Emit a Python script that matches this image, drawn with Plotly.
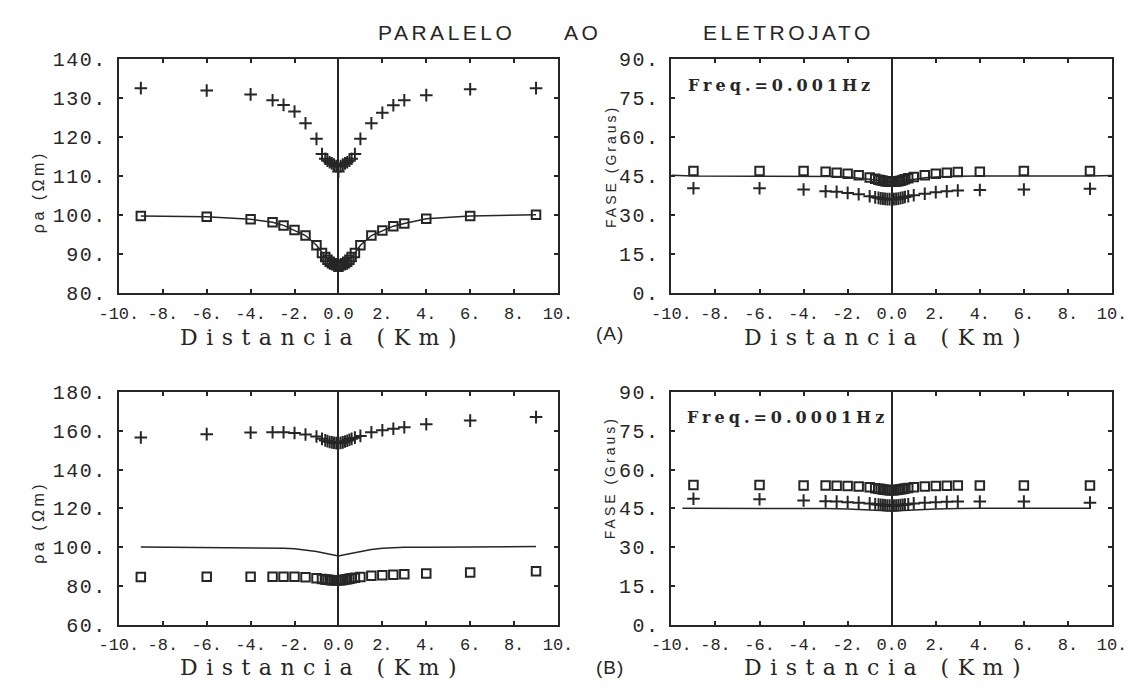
import plotly.graph_objects as go

W, H = 1143, 691
INK = "#262626"

# ---------------- data ----------------
X = [-9, -6, -4, -3, -2.5, -2, -1.5, -1, -0.75, -0.6, -0.5, -0.4, -0.3, -0.2, -0.1, 0,
     0.1, 0.2, 0.3, 0.4, 0.5, 0.6, 0.75, 1, 1.5, 2, 2.5, 3, 4, 6, 9]

# (A) Freq = 0.001 Hz, apparent resistivity
rho_a_plus = [132.6, 132.0, 131.0, 129.5, 128.3, 126.6, 123.6, 119.6, 115.7, 114.5, 114.0, 113.6, 113.3, 113.0, 112.6, 111.2,
              112.6, 113.0, 113.3, 113.6, 114.0, 114.5, 115.7, 119.6, 123.6, 126.3, 128.2, 129.5, 130.8, 132.3, 132.6]
rho_a_square = [99.8, 99.6, 99.0, 98.2, 97.4, 96.2, 94.8, 92.3, 90.3, 89.3, 88.6, 88.1, 87.7, 87.4, 87.2, 86.8,
                87.2, 87.4, 87.7, 88.1, 88.6, 89.3, 90.3, 92.3, 94.8, 96.1, 97.2, 97.9, 99.1, 99.8, 100.1]
rho_a_line = [99.8, 99.6, 99.0, 98.2, 97.4, 96.2, 94.8, 92.3, 90.3, 89.3, 88.6, 88.1, 87.7, 87.4, 87.2, 86.8,
              87.2, 87.4, 87.7, 88.1, 88.6, 89.3, 90.3, 92.3, 94.8, 96.1, 97.2, 97.9, 99.1, 99.8, 100.1]

# (A) Freq = 0.001 Hz, phase
fase_a_square = [47.0, 47.0, 47.0, 46.7, 46.4, 46.0, 45.4, 44.5, 44.0, 43.7, 43.5, 43.3, 43.1, 43.0, 42.9, 42.9,
                 42.9, 43.0, 43.1, 43.3, 43.6, 43.9, 44.2, 44.7, 45.4, 46.0, 46.4, 46.6, 46.7, 47.0, 47.0]
fase_a_plus = [40.4, 40.4, 39.9, 39.2, 39.0, 38.6, 38.1, 37.3, 36.9, 36.7, 36.5, 36.4, 36.3, 36.2, 36.2, 36.2,
               36.2, 36.3, 36.4, 36.6, 36.8, 37.0, 37.3, 37.7, 38.3, 38.9, 39.2, 39.5, 39.7, 39.9, 40.2]
fase_a_line_x = [-10, -9, -6, -4, -3, -2.5, -2, -1.5, -1, -0.5, 0, 0.5, 1, 1.5, 2, 2.5, 3, 4, 6, 9, 10]
fase_a_line = [45.4, 45.1, 45.0, 45.1, 45.0, 44.9, 44.7, 44.4, 43.9, 43.2, 42.8, 43.2, 43.9, 44.4, 44.7, 44.9, 45.0, 45.1, 45.0, 45.1, 45.3]

# (B) Freq = 0.0001 Hz, apparent resistivity
rho_b_plus = [156.5, 158.2, 159.0, 159.2, 159.2, 158.8, 158.0, 157.0, 155.8, 155.0, 154.6, 154.2, 154.0, 153.8, 153.6, 153.5,
              153.7, 154.0, 154.4, 154.8, 155.3, 155.8, 156.4, 157.3, 159.2, 160.2, 161.0, 161.8, 163.3, 165.2, 167.0]
rho_b_square = [84.6, 84.8, 84.8, 84.8, 84.8, 84.7, 84.5, 84.0, 83.6, 83.4, 83.2, 83.1, 83.0, 82.9, 82.9, 82.9,
                83.0, 83.1, 83.3, 83.5, 83.7, 84.0, 84.3, 84.6, 85.3, 85.6, 85.8, 86.0, 86.4, 87.0, 87.6]
rho_b_line_x = [-9, -6, -4, -3, -2.5, -2, -1.5, -1, -0.5, 0, 0.5, 1, 1.5, 2, 2.5, 3, 4, 6, 9]
rho_b_line = [100.1, 100.0, 99.9, 99.7, 99.5, 99.2, 98.6, 97.8, 96.6, 95.4, 96.6, 97.8, 98.8, 99.5, 99.8, 100.0, 100.0, 100.0, 100.3]

# (B) Freq = 0.0001 Hz, phase
fase_b_square = [54.0, 54.0, 53.8, 53.8, 53.7, 53.6, 53.4, 53.1, 52.8, 52.6, 52.5, 52.3, 52.2, 52.1, 52.0, 52.0,
                 52.0, 52.1, 52.2, 52.4, 52.5, 52.7, 52.9, 53.1, 53.4, 53.6, 53.7, 53.8, 53.8, 53.8, 53.8]
fase_b_plus = [48.7, 48.5, 48.0, 47.7, 47.6, 47.4, 47.2, 46.9, 46.6, 46.5, 46.4, 46.3, 46.2, 46.1, 46.1, 46.0,
               46.1, 46.1, 46.2, 46.3, 46.4, 46.5, 46.6, 46.9, 47.2, 47.4, 47.5, 47.6, 47.6, 47.6, 47.2]
fase_b_line_x = [-9.5, -6, -4, -3.5, -3, -2, -1, -0.5, 0, 0.5, 1, 2, 3, 3.5, 4, 6, 9]
fase_b_line = [45.0, 45.0, 45.0, 45.0, 44.9, 44.7, 44.4, 44.2, 44.0, 44.2, 44.4, 44.7, 44.9, 45.0, 45.0, 45.0, 45.0]

x_tickvals = [-10, -8, -6, -4, -2, 0, 2, 4, 6, 8, 10]
x_ticktext = ["-10.", "-8.", "-6.", "-4.", "-2.", "0.0", "2.", "4.", "6.", "8.", "10."]
rho_a_ticks = [80, 90, 100, 110, 120, 130, 140]
rho_b_ticks = [60, 80, 100, 120, 140, 160, 180]
fase_ticks = [0, 15, 30, 45, 60, 75, 90]

# ---------------- layout helpers ----------------
def px(x):
    return x / W

def py(y):
    return 1 - y / H

LEFT = [px(102), px(555)]
RIGHT = [px(672), px(1126.5)]
TOP = [py(293), py(51)]
BOT = [py(636), py(395)]

def sp(t, ls=2):
    return f'<span style="letter-spacing:{ls}px">{t}</span>'

fig = go.Figure()

panels = [
    ("x", "y", LEFT, TOP, [80, 140], rho_a_ticks,
     [(X, rho_a_line, "lines", None), (X, rho_a_square, "markers", "square"), (X, rho_a_plus, "markers", "plus")]),
    ("x2", "y2", RIGHT, TOP, [0, 90], fase_ticks,
     [(fase_a_line_x, fase_a_line, "lines", None), (X, fase_a_square, "markers", "square"), (X, fase_a_plus, "markers", "plus")]),
    ("x3", "y3", LEFT, BOT, [60, 180], rho_b_ticks,
     [(rho_b_line_x, rho_b_line, "lines", None), (X, rho_b_square, "markers", "square"), (X, rho_b_plus, "markers", "plus")]),
    ("x4", "y4", RIGHT, BOT, [0, 90], fase_ticks,
     [(fase_b_line_x, fase_b_line, "lines", None), (X, fase_b_square, "markers", "square"), (X, fase_b_plus, "markers", "plus")]),
]

axis_common = dict(
    showline=True, linecolor=INK, linewidth=2, mirror="ticks",
    ticks="inside", ticklen=4, tickwidth=1.5, tickcolor=INK,
    showgrid=False, zeroline=False,
)

for xa, ya, xd, yd, yr, yt, series in panels:
    for sx, sy, mode, kind in series:
        if mode == "lines":
            fig.add_trace(go.Scatter(x=sx, y=sy, mode="lines", xaxis=xa, yaxis=ya,
                                     line=dict(color=INK, width=1.5), showlegend=False))
        elif kind == "square":
            fig.add_trace(go.Scatter(x=sx, y=sy, mode="markers", xaxis=xa, yaxis=ya,
                                     marker=dict(symbol="square-open", size=8.5, color=INK,
                                                 line=dict(color=INK, width=2)),
                                     showlegend=False))
        else:
            fig.add_trace(go.Scatter(x=sx, y=sy, mode="markers", xaxis=xa, yaxis=ya,
                                     marker=dict(symbol="cross-thin-open", size=9, color=INK,
                                                 line=dict(color=INK, width=2)),
                                     showlegend=False))
    xkey = "xaxis" if xa == "x" else "xaxis" + xa[1:]
    ykey = "yaxis" if ya == "y" else "yaxis" + ya[1:]
    fig.update_layout(**{
        xkey: dict(axis_common, domain=xd, anchor=ya, range=[-10, 10],
                   tickmode="array", tickvals=x_tickvals, ticktext=x_ticktext,
                   tickfont=dict(family="Liberation Mono", size=17, color=INK),
                   zeroline=True, zerolinecolor=INK, zerolinewidth=1.6,
                   ticklabelstandoff=3),
        ykey: dict(axis_common, domain=yd, anchor=xa, range=yr,
                   tickmode="array", tickvals=yt,
                   ticktext=[sp(f"{v}.", 1.5) for v in yt],
                   tickfont=dict(family="Liberation Mono", size=20, color=INK),
                   ticklabelstandoff=6),
    })

ann = []
def text(x, y, t, size, family, angle=0, ls=0):
    ann.append(dict(x=px(x), y=py(y), xref="paper", yref="paper", text=sp(t, ls) if ls else t,
                    showarrow=False, textangle=angle, xanchor="center", yanchor="middle",
                    borderpad=0,
                    font=dict(family=family, size=size, color=INK)))

# title
text(440, 23, "PARALELO", 21, "Liberation Sans", ls=3.5)
text(580, 23, "AO", 21, "Liberation Sans", ls=3.5)
text(793, 23, "ELETROJATO", 21, "Liberation Sans", ls=3.5)

# x-axis titles
for cx, cy in [(312, 339), (894, 339), (312, 680), (894, 680)]:
    text(cx, cy, "Distancia (Km)", 22, "DejaVu Serif", ls=8.5)

text(609, 335, "(A)", 19, "Liberation Sans", ls=1)
text(609, 680, "(B)", 19, "Liberation Sans", ls=1)

# y-axis titles
text(19, 188, "ρa (Ωm)", 16, "Liberation Sans", angle=-90, ls=3.5)
text(19, 530, "ρa (Ωm)", 16, "Liberation Sans", angle=-90, ls=3.5)
text(609, 162, "FASE (Graus)", 14, "Liberation Sans", angle=-90, ls=3)
text(609, 484, "FASE (Graus)", 14, "Liberation Sans", angle=-90, ls=3)

# frequency labels
ann.append(dict(x=px(687), y=py(78), xref="paper", yref="paper", text=sp("<b>Freq.=0.001Hz</b>", 4),
                showarrow=False, xanchor="left", yanchor="middle",
                font=dict(family="DejaVu Serif", size=16, color=INK)))
ann.append(dict(x=px(686), y=py(422), xref="paper", yref="paper", text=sp("<b>Freq.=0.0001Hz</b>", 4),
                showarrow=False, xanchor="left", yanchor="middle",
                font=dict(family="DejaVu Serif", size=16, color=INK)))

fig.update_layout(
    width=W, height=H, autosize=False,
    margin=dict(l=0, r=0, t=0, b=0),
    paper_bgcolor="white", plot_bgcolor="white",
    annotations=ann,
)

fig.write_html("out.html")
